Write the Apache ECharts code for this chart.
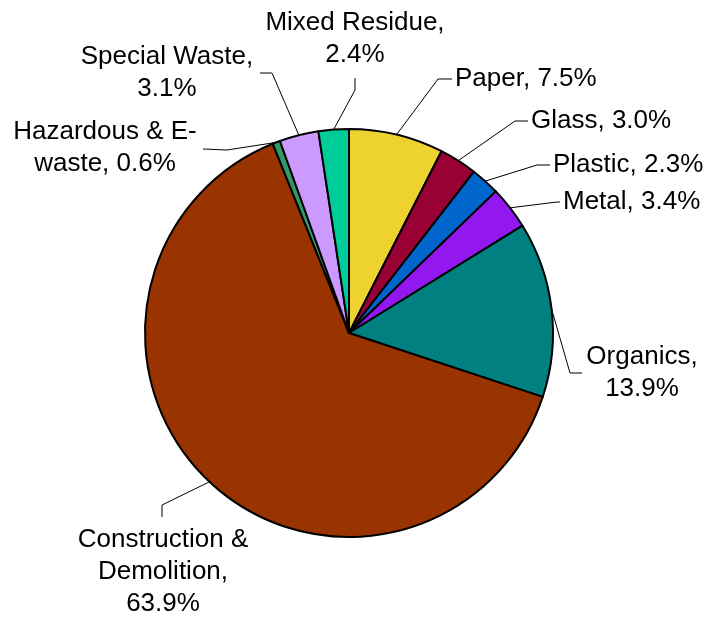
<!DOCTYPE html>
<html>
<head>
<meta charset="utf-8">
<script src="https://cdn.jsdelivr.net/npm/echarts@6/dist/echarts.min.js"></script>
<style>
  html, body { margin: 0; padding: 0; background: #fff; }
  #chart { width: 708px; height: 617px; }
</style>
</head>
<body>
<div id="chart"></div>
<script>
// 各类废弃物占比（顺时针，从12点钟方向开始）
const names = ['Paper', 'Glass', 'Plastic', 'Metal', 'Organics', 'Construction &\nDemolition', 'Hazardous & E-\nwaste', 'Special Waste', 'Mixed Residue'];
const shares = [7.5, 3.0, 2.3, 3.4, 13.9, 63.9, 0.6, 3.1, 2.4];
const colors = ['#eed22e', '#990033', '#0066cc', '#9318f0', '#008080', '#993300', '#339966', '#cc99ff', '#00cc99'];

// 标签摆放：文字锚点 + 引线拐点/终点
const spots = [
  { x: 455, y: 79, align: 'left', bend: [438, 79], end: [452, 79], wrap: false },
  { x: 531, y: 121, align: 'left', bend: [515, 121], end: [528, 121], wrap: false },
  { x: 553, y: 165, align: 'left', bend: [537, 165], end: [550, 165], wrap: false },
  { x: 563, y: 202, align: 'left', bend: [557, 202], end: [560, 202], wrap: false },
  { x: 642, y: 373, align: 'center', bend: [570, 373], end: [582, 373], wrap: true },
  { x: 163, y: 572, align: 'center', bend: [162, 505], end: [162, 517], wrap: true },
  { x: 105, y: 148, align: 'center', bend: [227, 150], end: [203, 149], wrap: false },
  { x: 167, y: 73, align: 'center', bend: [272, 73], end: [260, 73], wrap: true },
  { x: 355, y: 39, align: 'center', bend: [355, 90], end: [355, 78], wrap: true },
];

const chart = echarts.init(document.getElementById('chart'));
chart.setOption({
  backgroundColor: '#fff',
  animation: false,
  series: [{
    type: 'pie',
    center: [349, 333],
    radius: 204,
    startAngle: 90,
    clockwise: true,
    avoidLabelOverlap: false,
    data: names.map((n, i) => ({ name: n, value: shares[i], itemStyle: { color: colors[i] } })),
    itemStyle: { borderColor: '#000', borderWidth: 2 },
    label: {
      show: true,
      color: '#000',
      fontFamily: '"Liberation Sans", Arial, sans-serif',
      fontSize: 26,
      lineHeight: 32,
      formatter: p => p.name + (spots[p.dataIndex].wrap ? ',\n' : ', ') + shares[p.dataIndex].toFixed(1) + '%',
    },
    labelLine: { show: true, length: 10, length2: 10, lineStyle: { color: '#000', width: 1 } },
    labelLayout(params) {
      const s = spots[params.dataIndex];
      const start = params.labelLinePoints ? params.labelLinePoints[0] : s.bend;
      return {
        x: s.x,
        y: s.y,
        align: s.align,
        verticalAlign: 'middle',
        labelLinePoints: [start, s.bend, s.end],
      };
    },
  }],
});
window.addEventListener('resize', () => chart.resize());
</script>
</body>
</html>
